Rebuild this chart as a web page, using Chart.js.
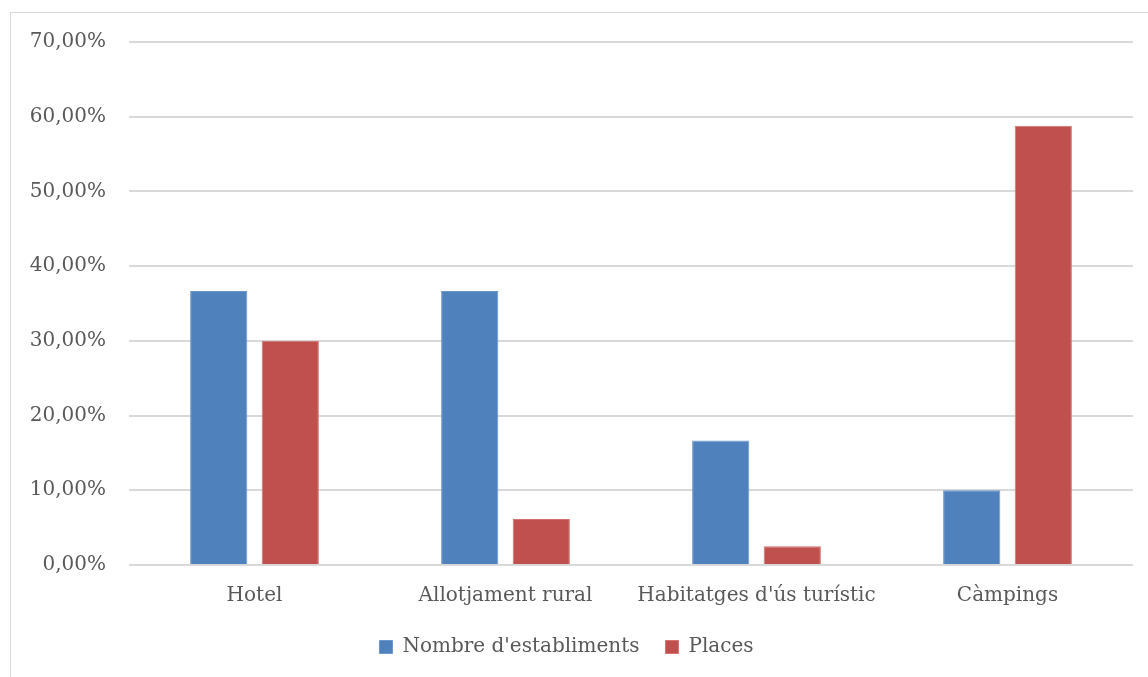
<!DOCTYPE html>
<html>
<head>
<meta charset="utf-8">
<script src="https://cdn.jsdelivr.net/npm/chart.js@4.4.1/dist/chart.umd.min.js"></script>
<style>
    html, body { margin: 0; padding: 0; background: #fff; overflow: hidden; }
    #frame { position: absolute; left: 10px; top: 12px; width: 1200px; height: 700px; border: 1px solid #d9d9d9; }
    #wrap { position: absolute; left: 0; top: 0; width: 1148px; height: 677px; }
</style>
</head>
<body>
<div id="frame"></div>
<div id="wrap"><canvas id="chart"></canvas></div>
<script>
    // Data
    const categories = ['Hotel', 'Allotjament rural', "Habitatges d'ús turístic", 'Càmpings'];
    const establiments = [36.67, 36.67, 16.67, 10.00];
    const places = [30.02, 6.15, 2.52, 58.80];
    const seriesNames = ["Nombre d'establiments", 'Places'];

    const textColor = '#595959';
    const fontFamily = "'DejaVu Serif', 'Liberation Serif', serif";
    const fontSize = 20;

    const ctx = document.getElementById('chart').getContext('2d');
    new Chart(ctx, {
        type: 'bar',
        data: {
            labels: categories,
            datasets: [
                {
                    label: seriesNames[0],
                    data: establiments,
                    backgroundColor: '#4F81BD',
                    borderColor: '#6b97cc',
                    borderWidth: 1
                },
                {
                    label: seriesNames[1],
                    data: places,
                    backgroundColor: '#C0504D',
                    borderColor: '#d27471',
                    borderWidth: 1
                }
            ]
        },
        options: {
            responsive: true,
            maintainAspectRatio: false,
            animation: false,
            layout: { padding: { left: 0, right: 15, top: 42, bottom: 10 } },
            datasets: {
                bar: { categoryPercentage: 0.57, barPercentage: 0.8 }
            },
            plugins: {
                legend: {
                    position: 'bottom',
                    labels: {
                        boxWidth: 13,
                        boxHeight: 13,
                        padding: 26,
                        color: textColor,
                        font: { family: fontFamily, size: fontSize }
                    }
                },
                tooltip: { enabled: false }
            },
            scales: {
                x: {
                    afterFit: function(scale) { scale.height = 46; },
                    grid: { display: false },
                    border: { display: false },
                    ticks: {
                        color: textColor,
                        padding: 11,
                        font: { family: fontFamily, size: fontSize }
                    }
                },
                y: {
                    min: 0,
                    max: 70,
                    afterFit: function(scale) { scale.width = 129; },
                    grid: { color: '#d9d9d9', lineWidth: 2, drawTicks: false },
                    border: { display: false },
                    ticks: {
                        stepSize: 10,
                        padding: 23,
                        color: textColor,
                        font: { family: fontFamily, size: fontSize },
                        callback: function(v) { return v.toFixed(2).replace('.', ',') + '%'; }
                    }
                }
            }
        }
    });
</script>
</body>
</html>
